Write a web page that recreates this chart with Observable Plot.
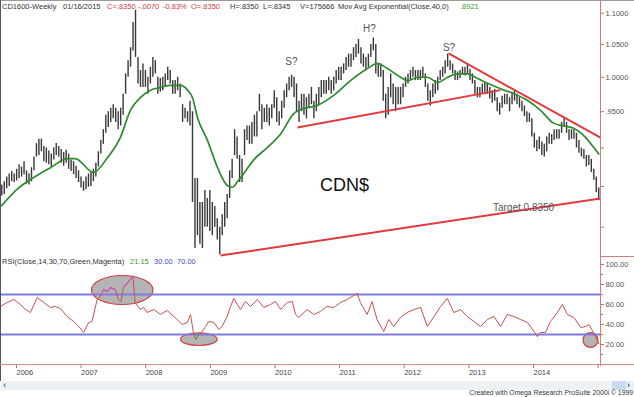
<!DOCTYPE html>
<html><head><meta charset="utf-8">
<script src="https://cdn.jsdelivr.net/npm/d3@7"></script>
<script src="https://cdn.jsdelivr.net/npm/@observablehq/plot@0.6"></script>
<style>
html,body{margin:0;padding:0;background:#fff;}
#wrap{position:relative;width:634px;height:397px;overflow:hidden;font-family:"Liberation Sans",Arial,sans-serif;background:#fff;}
.abs{position:absolute;white-space:nowrap;}
.hd{font-size:7.5px;line-height:9px;color:#333;}
.red{color:#d03c3c;} .grn{color:#2f9a2f;} .blu{color:#4a4ac8;}
</style></head><body>
<div id="wrap">
  <div id="main" class="abs" style="left:0;top:0"></div>
  <div id="rsi" class="abs" style="left:0;top:256px"></div>
  <div class="abs" style="left:0;top:0;width:634px;height:1px;background:#9a9a9a"></div>
  <div class="abs" style="left:0;top:0;width:1px;height:381px;background:#555"></div>
  <div class="abs" style="left:600px;top:0;width:1px;height:366px;background:#d27c7c"></div>
  <div class="abs" style="left:600px;top:256px;width:34px;height:1px;background:#d27c7c"></div>
  <div class="abs" style="left:0;top:364px;width:634px;height:1px;background:#d88a8a"></div>
  <div class="abs hd" style="left:2px;top:2px">CD1600-Weekly</div>
  <div class="abs hd" style="left:63px;top:2px">01/16/2015</div>
  <div class="abs hd red" style="left:107px;top:2px">C=.8350</div>
  <div class="abs hd red" style="left:138px;top:2px">-.0070</div>
  <div class="abs hd red" style="left:163px;top:2px">-0.83%</div>
  <div class="abs hd red" style="left:191px;top:2px">O=.8350</div>
  <div class="abs hd" style="left:230px;top:2px">H=.8350</div>
  <div class="abs hd" style="left:263px;top:2px">L=.8345</div>
  <div class="abs hd" style="left:300px;top:2px">V=175666</div>
  <div class="abs hd" style="left:338px;top:2px">Mov Avg Exponential(Close,40,0)</div>
  <div class="abs hd grn" style="left:460px;top:2px">.8921</div>
  <div class="abs hd" style="left:2px;top:257px">RSI(Close,14,30,70,Green,Magenta)</div>
  <div class="abs hd grn" style="left:130px;top:257px">21.15</div>
  <div class="abs hd blu" style="left:154px;top:257px">30.00</div>
  <div class="abs hd blu" style="left:177px;top:257px">70.00</div>
  <div class="abs" style="left:1px;top:381px;width:633px;height:9px;background:#eef1f3"></div>
  <div class="abs" style="left:3px;top:380px;font-size:9px;line-height:10px;color:#3a6fc0;font-weight:bold">&lsaquo;</div>
  <div class="abs" style="left:612px;top:381px;width:14px;height:9px;background:#c9d9f0"></div>
  <div class="abs" style="left:627px;top:380px;font-size:9px;line-height:10px;color:#2a5db0;font-weight:bold">&rsaquo;</div>
  <div class="abs" style="right:1px;top:389px;font-size:6.8px;line-height:8px;color:#333">Created with Omega Research ProSuite 2000i © 1999</div>
</div>
<script>
// ---- weekly bars sampled every 2 weeks, starting 2005-10-21 ----
const barStart = "2005-10-21";
const lows = [
.838,.840,.847,.850,.856,.855,.857,.860,.862,.865,.853,.852,.856,.870,.888,.890,.895,.882,.880,.878,
.875,.884,.890,.888,.880,.876,.880,.872,.869,.865,.860,.855,.848,.844,.846,.849,.850,.856,.862,.875,
.892,.905,.920,.928,.935,.940,.935,.925,.930,.945,.975,1.000,1.015,1.040,1.030,.990,.985,.985,.985,.975,
.990,1.000,1.005,.975,.978,.980,.985,.995,.990,.975,.975,.980,.970,.935,.940,.935,.930,.830,.775,.790,
.780,.775,.800,.800,.795,.790,.800,.785,.768,.790,.800,.810,.835,.860,.890,.885,.855,.855,.890,.910,
.905,.905,.915,.915,.950,.925,.935,.935,.930,.940,.955,.935,.930,.940,.955,.970,.980,.985,.970,.950,
.935,.950,.945,.940,.955,.960,.940,.950,.960,.970,.975,.975,.980,.975,.980,.990,.995,.995,1.005,1.010,
1.015,1.015,1.025,1.030,1.035,1.020,1.015,1.010,1.015,1.030,1.040,1.005,1.000,1.000,.965,.940,.945,.970,.960,.950,
.960,.960,.970,.985,.990,.995,1.000,.995,.995,.995,1.000,.985,.965,.958,.970,.975,.980,.995,1.000,1.005,
1.015,1.010,1.005,.995,.995,.998,1.003,1.002,1.005,.995,.990,.975,.970,.970,.975,.975,.975,.968,.962,.965,
.950,.945,.955,.960,.960,.950,.960,.965,.960,.955,.950,.943,.935,.935,.915,.900,.895,.898,.890,.888,
.895,.905,.905,.910,.912,.912,.920,.928,.920,.910,.912,.912,.900,.893,.888,.885,.875,.877,.868,.858,
.842,.832];
const highs = [
.852,.856,.862,.866,.869,.866,.872,.878,.875,.882,.870,.866,.874,.888,.906,.912,.912,.902,.900,.896,
.892,.900,.906,.902,.898,.894,.897,.892,.884,.882,.876,.870,.862,.856,.862,.866,.868,.872,.880,.895,
.910,.925,.945,.950,.955,.960,.955,.950,.955,.975,1.005,1.025,1.045,1.085,1.105,1.030,1.010,1.020,1.010,1.000,
1.015,1.030,1.025,1.000,.998,1.000,1.005,1.015,1.010,.995,.995,1.000,.990,.960,.955,.950,.965,.950,.860,.860,
.830,.830,.845,.835,.845,.830,.825,.810,.800,.815,.830,.840,.870,.885,.925,.915,.890,.885,.925,.930,
.930,.935,.945,.950,.975,.960,.955,.960,.955,.960,.980,.970,.950,.965,.980,.990,1.000,1.003,1.000,.990,
.965,.975,.975,.970,.975,.985,.965,.975,.985,.995,.995,.995,1.000,.995,1.000,1.010,1.015,1.015,1.020,1.030,
1.035,1.035,1.045,1.050,1.058,1.045,1.035,1.030,1.035,1.050,1.060,1.050,1.020,1.020,1.010,.975,.985,1.005,.990,.985,
.985,.985,.990,1.000,1.005,1.010,1.015,1.010,1.010,1.010,1.015,1.005,.990,.980,.990,.995,1.000,1.010,1.015,1.025,
1.035,1.025,1.020,1.010,1.008,1.010,1.015,1.015,1.020,1.012,1.005,.995,.985,.985,.990,.992,.990,.985,.980,.982,
.970,.962,.972,.975,.975,.970,.978,.980,.975,.970,.965,.958,.950,.948,.940,.920,.910,.915,.908,.905,
.915,.920,.918,.925,.925,.925,.935,.942,.935,.925,.925,.925,.920,.910,.900,.898,.890,.890,.885,.872,
.862,.848];

// ---- 40-week exponential moving average ----
const maDates = ["2005-10-20","2006-01-18","2006-04-17","2006-07-23","2006-10-27","2006-12-10","2007-03-24","2007-06-10","2007-08-22","2007-10-18","2007-12-13","2008-02-08","2008-04-05","2008-06-01","2008-07-27","2008-09-05","2008-10-03","2008-10-31","2008-12-27","2009-02-22","2009-04-19","2009-05-17","2009-06-14","2009-07-18","2009-09-13","2009-12-01","2010-02-13","2010-04-27","2010-06-05","2010-09-09","2010-12-08","2011-03-15","2011-06-19","2011-08-14","2011-10-10","2011-12-23","2012-02-01","2012-03-28","2012-05-24","2012-07-19","2012-09-14","2012-11-09","2013-01-05","2013-03-03","2013-04-28","2013-07-10","2013-09-22","2013-12-10","2014-02-21","2014-05-05","2014-07-01","2014-08-27","2014-10-22","2014-12-18","2015-01-16"];
const maValues = [.826,.847,.861,.874,.886,.886,.868,.887,.914,.952,.970,.981,.985,.988,.988,.981,.970,.942,.910,.874,.851,.849,.856,.866,.884,.901,.919,.947,.953,.959,.973,.995,1.013,1.021,1.013,1.000,.995,1.000,1.000,.992,1.000,1.005,1.005,.998,.991,.983,.976,.966,.952,.934,.930,.927,.917,.901,.892];

// ---- RSI(14) ----
const rsiDates = ["2005-10-13","2005-11-20","2005-12-28","2006-02-03","2006-03-04","2006-04-01","2006-05-09","2006-06-16","2006-07-23","2006-08-20","2006-09-18","2006-10-25","2006-12-02","2006-12-30","2007-01-27","2007-02-24","2007-03-15","2007-04-13","2007-05-01","2007-05-20","2007-06-08","2007-06-26","2007-07-24","2007-08-12","2007-08-25","2007-09-09","2007-10-08","2007-11-01","2007-11-14","2007-12-13","2008-01-01","2008-01-20","2008-02-27","2008-04-05","2008-05-13","2008-06-19","2008-07-08","2008-08-06","2008-09-03","2008-09-22","2008-10-07","2008-10-20","2008-11-08","2008-11-27","2008-12-16","2009-01-03","2009-02-01","2009-03-01","2009-03-19","2009-04-17","2009-05-06","2009-05-25","2009-06-13","2009-07-01","2009-07-29","2009-08-27","2009-10-04","2009-11-10","2009-12-18","2010-01-15","2010-02-13","2010-03-22","2010-04-20","2010-05-08","2010-05-27","2010-07-13","2010-08-19","2010-09-26","2010-11-02","2010-12-10","2011-01-17","2011-02-24","2011-03-24","2011-04-22","2011-05-10","2011-06-17","2011-07-15","2011-08-12","2011-09-19","2011-10-17","2011-11-14","2011-12-22","2012-01-29","2012-03-07","2012-04-14","2012-05-22","2012-06-29","2012-08-05","2012-09-12","2012-10-19","2012-11-26","2013-01-03","2013-02-10","2013-03-19","2013-04-26","2013-06-03","2013-07-10","2013-08-17","2013-09-24","2013-11-01","2013-12-09","2014-01-15","2014-02-03","2014-02-21","2014-03-21","2014-04-18","2014-05-27","2014-06-24","2014-07-23","2014-08-29","2014-10-06","2014-11-03","2014-11-22","2014-12-11","2015-01-16"];
const rsiValues = [58,62,65,60,55,52,67,62,57,58,56,48,43,38,32,42,43,65,68,75,73,77,75,65,63,77,83,88,62,55,57,52,55,50,54,48,45,40,42,50,33,25,30,33,38,43,42,35,38,48,58,66,60,55,63,58,65,57,60,63,55,62,63,50,47,55,50,53,58,57,62,65,68,71,62,50,63,45,33,45,38,47,52,55,57,38,48,58,66,52,55,48,43,38,45,48,38,50,48,45,42,33,28,32,32,43,52,60,50,47,37,38,40,34,21.15];

// ---- annotations ----
const priceTicks = [0.80, 0.85, 0.90, 0.95, 1.00, 1.05, 1.10];
const rsiTicks = [20, 40, 60, 80, 100];
const rsiMinorTicks = [10, 30, 50, 70, 90];
const rsiLevels = [30, 70];
const years = [2006, 2007, 2008, 2009, 2010, 2011, 2012, 2013, 2014, 2015];
const trendStartDates = ["2010-05-19", "2012-09-19", "2009-03-10"];
const trendStartPrices = [0.928, 1.036, 0.767];
const trendEndDates = ["2013-07-10", "2015-01-26", "2015-01-26"];
const trendEndPrices = [0.981, 0.914, 0.835];
const patternLabels = ["S?", "H?", "S?"];
const patternDates = ["2010-04-15", "2011-06-30", "2012-09-22"];
const patternPrices = [1.0227, 1.0745, 1.0453];
const titleText = "CDN$", titleDate = "2011-02-09", titlePrice = 0.851;
const targetText = "Target 0.8350", targetDate = "2013-11-17", targetPrice = 0.824;
const circleDates = ["2007-09-02", "2008-11-08", "2014-11-30"];
const circleValues = [74.5, 25.3, 24.5];

// ---- build tables ----
const DAY = 864e5, t0 = Date.parse(barStart);
const bars = lows.map((lo, i) => ({date: new Date(t0 + 14 * i * DAY), lo, hi: highs[i]}));
const ma = maDates.map((d, i) => ({date: new Date(d), v: maValues[i]}));
const rsi = rsiDates.map((d, i) => ({date: new Date(d), v: rsiValues[i]}));
const trends = trendStartDates.map((d, i) => ({x1: new Date(d), y1: trendStartPrices[i], x2: new Date(trendEndDates[i]), y2: trendEndPrices[i]}));
const pats = patternLabels.map((t, i) => ({t, date: new Date(patternDates[i]), p: patternPrices[i]}));
const circles = circleDates.map((d, i) => ({date: new Date(d), v: circleValues[i]}));
const yearDates = years.map(y => new Date(Date.UTC(y, 0, 1)));

const ellipse = k => ({draw(ctx, size) {
  const r = Math.sqrt(size / Math.PI), rx = r * k, ry = r, c = 0.5523;
  ctx.moveTo(rx, 0);
  ctx.bezierCurveTo(rx, ry * c, rx * c, ry, 0, ry);
  ctx.bezierCurveTo(-rx * c, ry, -rx, ry * c, -rx, 0);
  ctx.bezierCurveTo(-rx, -ry * c, -rx * c, -ry, 0, -ry);
  ctx.bezierCurveTo(rx * c, -ry, rx, -ry * c, rx, 0);
  ctx.closePath();
}});

const xOpts = {type: "utc", domain: [new Date("2006-01-01"), new Date("2015-01-01")], range: [14, 595.6], label: null};
const style = {background: "transparent", fontFamily: "Liberation Sans, Arial, sans-serif", fontSize: "7.5px", color: "#555", overflow: "visible"};
const fmtPrice = d => { const s = d.toFixed(4); return d < 1 ? s.slice(1) : s; };

const main = Plot.plot({
  width: 634, height: 256, marginLeft: 0, marginRight: 34, marginTop: 0, marginBottom: 0,
  style,
  x: {...xOpts, axis: null},
  y: {type: "log", domain: [0.8, 1.1], range: [226.7, 12.7], label: null},
  marks: [
    Plot.axisY({anchor: "right", label: null, ticks: priceTicks, tickFormat: fmtPrice, tickSize: 3, tickPadding: 2, stroke: "#c86a6a", fill: "#555", fontSize: 7.5}),
    Plot.ruleX(bars, {x: "date", y1: "lo", y2: "hi", stroke: "#383838", strokeWidth: 1.4}),
    Plot.line(ma, {x: "date", y: "v", stroke: "#2f8a2f", strokeWidth: 1.7, curve: "monotone-x"}),
    Plot.link(trends, {x1: "x1", y1: "y1", x2: "x2", y2: "y2", stroke: "#e0393e", strokeWidth: 2}),
    Plot.text(pats, {x: "date", y: "p", text: "t", fontSize: 10, fill: "#555"}),
    Plot.text([titleText], {x: () => new Date(titleDate), y: () => titlePrice, text: d => d, fontSize: 18, fill: "#111"}),
    Plot.text([targetText], {x: () => new Date(targetDate), y: () => targetPrice, text: d => d, fontSize: 10, fill: "#555"})
  ]
});
document.getElementById("main").append(main);

const rsiPlot = Plot.plot({
  width: 634, height: 124, marginLeft: 0, marginRight: 34, marginTop: 8, marginBottom: 16,
  style,
  x: xOpts,
  y: {domain: [0, 100], label: null},
  marks: [
    Plot.dot([circles[0]], {x: "date", y: "v", r: 14.5, symbol: ellipse(2.12), fill: "#b4b4b4", stroke: "#d04040", strokeWidth: 1.2}),
    Plot.dot([circles[1]], {x: "date", y: "v", r: 6.3, symbol: ellipse(2.9), fill: "#b4b4b4", stroke: "#d04040", strokeWidth: 1.2}),
    Plot.dot([circles[2]], {x: "date", y: "v", r: 7.4, symbol: ellipse(1), fill: "#b4b4b4", stroke: "#d04040", strokeWidth: 1.2}),
    Plot.ruleY(rsiLevels, {stroke: "#7c7ce0", strokeWidth: 2}),
    Plot.line(rsi, {x: "date", y: "v", stroke: "#c9514e", strokeWidth: 1}),
    Plot.line(rsi, {x: "date", y: d => d.v >= 70 ? d.v : NaN, stroke: "#d23bd2", strokeWidth: 1}),
    Plot.line(rsi, {x: "date", y: d => d.v <= 30 ? d.v : NaN, stroke: "#2aa52a", strokeWidth: 1}),
    Plot.axisY({anchor: "right", label: null, ticks: rsiTicks, tickFormat: d => d.toFixed(2), tickSize: 3, tickPadding: 2, stroke: "#c86a6a", fill: "#555", fontSize: 7.5}),
    Plot.axisY({anchor: "right", label: null, ticks: rsiMinorTicks, tickFormat: null, text: null, tickSize: 2, stroke: "#c86a6a"}),
    Plot.axisX({label: null, ticks: yearDates, tickFormat: d => d.getUTCFullYear() < 2015 ? String(d.getUTCFullYear()) : "", tickSize: 4, tickPadding: 1, textAnchor: "start", dx: 2, stroke: "#c86a6a", fill: "#444", fontSize: 7.5})
  ]
});
document.getElementById("rsi").append(rsiPlot);
</script>
</body></html>
